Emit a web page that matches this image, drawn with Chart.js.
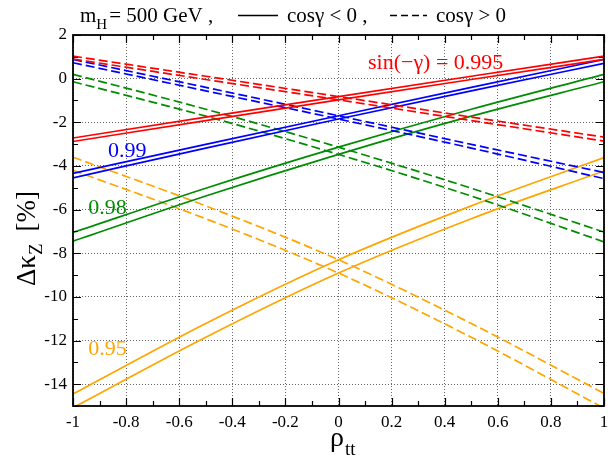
<!DOCTYPE html>
<html>
<head>
<meta charset="utf-8">
<script src="https://cdn.jsdelivr.net/npm/chart.js@4.4.0/dist/chart.umd.min.js"></script>
<style>
html,body{margin:0;padding:0;background:#fff;}
#wrap{width:608px;height:461px;}
</style>
</head>
<body>
<div id="wrap"><canvas id="c" width="608" height="461"></canvas></div>
<script>
// rho_tt sample points
const rho = [-1, -0.5, 0, 0.5, 1];

// sin(-gamma) = 0.995 (red)
const redSolidA = [-2.72, -1.76, -0.82, 0.11, 1.03];
const redSolidB = [-2.88, -1.92, -0.97, -0.04, 0.88];
const redDashA  = [1.03, 0.11, -0.82, -1.76, -2.68];
const redDashB  = [0.90, -0.04, -0.97, -1.92, -2.86];
// 0.99 (blue)
const blueSolidA = [-4.34, -3.01, -1.70, -0.40, 0.88];
const blueSolidB = [-4.55, -3.18, -1.85, -0.56, 0.70];
const blueDashA  = [0.88, -0.40, -1.70, -3.01, -4.30];
const blueDashB  = [0.73, -0.56, -1.85, -3.18, -4.58];
// 0.98 (green)
const greenSolidA = [-7.05, -5.02, -3.14, -1.40, 0.20];
const greenSolidB = [-7.45, -5.38, -3.47, -1.72, -0.14];
const greenDashA  = [0.20, -1.40, -3.14, -5.02, -7.03];
const greenDashB  = [-0.14, -1.72, -3.47, -5.38, -7.48];
// 0.95 (orange)
const orangeSolidA = [-14.45, -11.22, -8.30, -5.83, -3.62];
const orangeSolidB = [-15.08, -11.85, -8.91, -6.42, -4.23];
const orangeDashA  = [-3.60, -5.83, -8.30, -11.22, -14.42];
const orangeDashB  = [-4.20, -6.42, -8.91, -11.85, -15.10];

// tick labels
const xTicks = [-1, -0.8, -0.6, -0.4, -0.2, 0, 0.2, 0.4, 0.6, 0.8, 1];
const yTicks = [-14, -12, -10, -8, -6, -4, -2, 0, 2];

const RED = '#ff0000', BLUE = '#0000ff', GREEN = '#008c00', ORANGE = '#ffa500';
const SERIF = '"Liberation Serif", "DejaVu Serif", serif';

function ds(vals, color, dashed) {
  return {
    data: rho.map((r, i) => ({x: r, y: vals[i]})),
    borderColor: color,
    borderWidth: 1.7,
    borderDash: dashed ? [9, 4] : [],
    pointRadius: 0,
    fill: false,
    tension: 0.4,
    cubicInterpolationMode: 'monotone'
  };
}

const datasets = [
  ds(redSolidA, RED, false), ds(redSolidB, RED, false),
  ds(redDashA, RED, true), ds(redDashB, RED, true),
  ds(blueSolidA, BLUE, false), ds(blueSolidB, BLUE, false),
  ds(blueDashA, BLUE, true), ds(blueDashB, BLUE, true),
  ds(greenSolidA, GREEN, false), ds(greenSolidB, GREEN, false),
  ds(greenDashA, GREEN, true), ds(greenDashB, GREEN, true),
  ds(orangeSolidA, ORANGE, false), ds(orangeSolidB, ORANGE, false),
  ds(orangeDashA, ORANGE, true), ds(orangeDashB, ORANGE, true)
];

function fmt(v) {
  const r = Math.round(v * 10) / 10;
  return String(r);
}

const decor = {
  id: 'decor',
  afterDatasetsDraw(chart) {
    const {ctx, chartArea: a, scales: {x, y}} = chart;
    ctx.save();
    // ticks inside on all four sides
    ctx.strokeStyle = '#000';
    ctx.lineWidth = 1.2;
    ctx.setLineDash([]);
    ctx.beginPath();
    for (let i = -10; i <= 10; i++) {
      const px = Math.round(x.getPixelForValue(i / 10)) + 0.5;
      const len = (i % 2 === 0) ? 8 : 5;
      ctx.moveTo(px, a.bottom); ctx.lineTo(px, a.bottom - len);
      ctx.moveTo(px, a.top); ctx.lineTo(px, a.top + len);
    }
    for (let v = -15; v <= 2; v++) {
      const py = Math.round(y.getPixelForValue(v)) + 0.5;
      const len = (v % 2 === 0) ? 8 : 5;
      ctx.moveTo(a.left, py); ctx.lineTo(a.left + len, py);
      ctx.moveTo(a.right, py); ctx.lineTo(a.right - len, py);
    }
    ctx.stroke();
    // frame
    ctx.lineWidth = 1.8;
    ctx.strokeRect(a.left, a.top, a.right - a.left, a.bottom - a.top);

    // curve labels
    ctx.font = '22px ' + SERIF;
    ctx.textAlign = 'left';
    ctx.textBaseline = 'alphabetic';
    ctx.fillStyle = RED;
    ctx.fillText('sin(\u2212\u03b3) = 0.995', x.getPixelForValue(0.111), y.getPixelForValue(0.45));
    ctx.fillStyle = BLUE;
    ctx.fillText('0.99', x.getPixelForValue(-0.868), y.getPixelForValue(-3.58));
    ctx.fillStyle = GREEN;
    ctx.fillText('0.98', x.getPixelForValue(-0.943), y.getPixelForValue(-6.18));
    ctx.fillStyle = ORANGE;
    ctx.fillText('0.95', x.getPixelForValue(-0.943), y.getPixelForValue(-12.67));

    // header line
    ctx.fillStyle = '#000';
    ctx.strokeStyle = '#000';
    let cx = 80;
    const base = 22;
    ctx.font = '21px ' + SERIF;
    ctx.fillText('m', cx, base); cx += ctx.measureText('m').width;
    ctx.font = '15px ' + SERIF;
    ctx.fillText('H', cx, base + 7); cx += ctx.measureText('H').width + 2;
    ctx.font = '21px ' + SERIF;
    ctx.fillText('= 500 GeV ,', cx, base);
    ctx.lineWidth = 1.5;
    ctx.setLineDash([]);
    ctx.beginPath(); ctx.moveTo(238, 15.5); ctx.lineTo(278, 15.5); ctx.stroke();
    ctx.fillText('cos\u03b3 < 0 ,', 287, base);
    ctx.setLineDash([7, 4]);
    ctx.beginPath(); ctx.moveTo(390, 15.5); ctx.lineTo(427, 15.5); ctx.stroke();
    ctx.setLineDash([]);
    ctx.fillText('cos\u03b3 > 0', 436, base);

    // x axis title
    ctx.font = '28px ' + SERIF;
    ctx.fillText('\u03c1', 330, 446);
    const rw = ctx.measureText('\u03c1').width;
    ctx.font = '19px ' + SERIF;
    ctx.fillText('tt', 331 + rw, 455);

    // y axis title (rotated)
    ctx.save();
    ctx.translate(35, 286);
    ctx.rotate(-Math.PI / 2);
    ctx.font = '27px ' + SERIF;
    let tx = 0;
    ctx.fillText('\u0394\u03ba', tx, 0); tx += ctx.measureText('\u0394\u03ba').width;
    ctx.font = '19px ' + SERIF;
    ctx.fillText('Z', tx, 7); tx += ctx.measureText('Z').width + 12;
    ctx.font = '27px ' + SERIF;
    ctx.fillText('[%]', tx, 0);
    ctx.restore();

    ctx.restore();
  }
};

new Chart(document.getElementById('c'), {
  type: 'line',
  data: {datasets},
  options: {
    responsive: false,
    animation: false,
    devicePixelRatio: 1,
    layout: {padding: {left: 0, right: 4, top: 35, bottom: 0}},
    plugins: {legend: {display: false}, title: {display: false}, tooltip: {enabled: false}},
    scales: {
      x: {
        type: 'linear', min: -1, max: 1,
        afterBuildTicks: s => { s.ticks = xTicks.map(v => ({value: v})); },
        afterFit: s => { s.height = 55; s.paddingLeft = 0; s.paddingRight = 0; },
        ticks: {
          color: '#000', padding: 6, maxRotation: 0, autoSkip: false,
          font: {family: SERIF, size: 17},
          callback: v => fmt(v)
        },
        grid: {color: '#666', lineWidth: 1, drawTicks: false},
        border: {display: false, dash: [1, 2]}
      },
      y: {
        type: 'linear', min: -15, max: 2,
        afterBuildTicks: s => { s.ticks = yTicks.map(v => ({value: v})); },
        afterFit: s => { s.width = 73; s.paddingTop = 0; s.paddingBottom = 0; },
        ticks: {
          color: '#000', padding: 6, autoSkip: false,
          font: {family: SERIF, size: 17},
          callback: v => String(v)
        },
        grid: {color: '#666', lineWidth: 1, drawTicks: false},
        border: {display: false, dash: [1, 2]}
      }
    }
  },
  plugins: [decor]
});
</script>
</body>
</html>
